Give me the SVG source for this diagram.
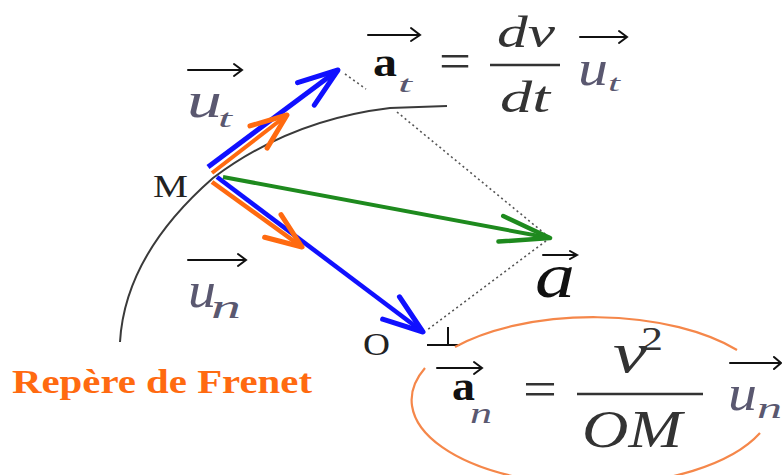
<svg xmlns="http://www.w3.org/2000/svg" width="782" height="475" viewBox="0 0 782 475">
<style>
.it{font-family:"Liberation Serif","Times New Roman",serif;font-style:italic}
.rm{font-family:"Liberation Serif","Times New Roman",serif}
.bd{font-family:"Liberation Serif","Times New Roman",serif;font-weight:bold}
.uc{fill:#5a5870}
.vec{fill:none;stroke:#111;stroke-width:2;stroke-linecap:round}
.dot{fill:none;stroke:#555;stroke-width:1.6;stroke-dasharray:2 3}
.ell{fill:none;stroke:#f5874a;stroke-width:2.2}
</style>
<defs>
<marker id="hb" markerUnits="userSpaceOnUse" viewBox="-50 -20 55 40" markerWidth="55" markerHeight="40" refX="0" refY="0" orient="auto" overflow="visible"><path d="M-40,-14 L0,0 L-40,14" fill="none" stroke="#1010ff" stroke-width="5" stroke-linecap="round" stroke-linejoin="round"/></marker>
<marker id="ho" markerUnits="userSpaceOnUse" viewBox="-50 -20 55 40" markerWidth="55" markerHeight="40" refX="0" refY="0" orient="auto" overflow="visible"><path d="M-36,-14 L0,0 L-36,14" fill="none" stroke="#ff6a10" stroke-width="5" stroke-linecap="round" stroke-linejoin="round"/></marker>
<marker id="hg" markerUnits="userSpaceOnUse" viewBox="-60 -20 65 40" markerWidth="65" markerHeight="40" refX="0" refY="0" orient="auto" overflow="visible"><path d="M-50,-13 L0,0 L-50,13" fill="none" stroke="#1e8a1e" stroke-width="4.5" stroke-linecap="round" stroke-linejoin="round"/></marker>
</defs>

<g id="trajectory">
<path d="M120,342 Q125,255 213,178 Q290,120 390,108 L447,106" fill="none" stroke="#3a3a3a" stroke-width="2"/>
</g>

<g id="connectors">
<path class="dot" d="M345,74 L366,89"/>
<path class="dot" d="M397,112 L550,238"/>
<path class="dot" d="M550,238 L427,330"/>
<line x1="208" y1="167" x2="338" y2="70" stroke="#1010ff" stroke-width="5" marker-end="url(#hb)"/>
<line x1="212" y1="173" x2="287" y2="115" stroke="#ff6a10" stroke-width="4" marker-end="url(#ho)"/>
<line x1="217" y1="177" x2="423" y2="332" stroke="#1010ff" stroke-width="4.5" marker-end="url(#hb)"/>
<line x1="212" y1="182" x2="302" y2="247" stroke="#ff6a10" stroke-width="4.5" marker-end="url(#ho)"/>
<line x1="223" y1="177" x2="550" y2="238" stroke="#1e8a1e" stroke-width="4" marker-end="url(#hg)"/>
</g>

<g id="point-M">
<text class="rm" x="153" y="197" font-size="32" textLength="35" lengthAdjust="spacingAndGlyphs" fill="#222">M</text>
</g>

<g id="point-O">
<text class="rm" x="363" y="355" font-size="32" textLength="27" lengthAdjust="spacingAndGlyphs" fill="#222">O</text>
<path d="M448,327 L448,345 M427,345 L460,345" fill="none" stroke="#111" stroke-width="2"/>
</g>

<g id="label-ut">
<path class="vec" d="M188,70 L242,70 M234,64 L242,70 L234,76"/>
<text class="it uc" x="187" y="117" font-size="50" textLength="35" lengthAdjust="spacingAndGlyphs">u</text>
<text class="it uc" x="218" y="127" font-size="26" textLength="14" lengthAdjust="spacingAndGlyphs">t</text>
</g>

<g id="label-un">
<path class="vec" d="M188,260 L246,260 M238,254 L246,260 L238,266"/>
<text class="it uc" x="188" y="307" font-size="50" textLength="28" lengthAdjust="spacingAndGlyphs">u</text>
<text class="it uc" x="211" y="318" font-size="34" textLength="30" lengthAdjust="spacingAndGlyphs">n</text>
</g>

<g id="label-a">
<path class="vec" d="M543,255 L577,255 M570,251 L577,255 L570,259"/>
<text class="it" x="535" y="297" font-size="64" textLength="40" lengthAdjust="spacingAndGlyphs" fill="#111">a</text>
</g>

<g id="formula-at">
<path class="vec" d="M368,35 L420,35 M411,28 L420,35 L411,41"/>
<text class="bd" x="373" y="76" font-size="40" textLength="24" lengthAdjust="spacingAndGlyphs" fill="#111">a</text>
<text class="it uc" x="398" y="92" font-size="24" textLength="14" lengthAdjust="spacingAndGlyphs">t</text>
<text class="rm" x="439" y="78" font-size="50" textLength="32" lengthAdjust="spacingAndGlyphs" fill="#333">=</text>
<text class="it" x="497" y="47" font-size="44" textLength="58" lengthAdjust="spacingAndGlyphs" fill="#333">dv</text>
<line x1="490" y1="65" x2="560" y2="65" stroke="#333" stroke-width="2.5"/>
<text class="it" x="500" y="112" font-size="44" textLength="50" lengthAdjust="spacingAndGlyphs" fill="#333">dt</text>
<path class="vec" d="M580,37 L627,37 M619,31 L627,37 L619,43"/>
<text class="it uc" x="578" y="85" font-size="50" textLength="30" lengthAdjust="spacingAndGlyphs">u</text>
<text class="it uc" x="608" y="91" font-size="24" textLength="12" lengthAdjust="spacingAndGlyphs">t</text>
</g>

<g id="formula-an">
<path class="ell" d="M455,347 A182,85 0 0 1 737,350"/>
<path class="ell" d="M760,433 A182,85 0 0 1 592,485 A182,85 0 0 1 425,368"/>
<path class="vec" d="M437,368 L482,368 M474,362 L482,368 L474,374"/>
<text class="bd" x="452" y="400" font-size="42" textLength="23" lengthAdjust="spacingAndGlyphs" fill="#111">a</text>
<text class="it uc" x="470" y="423" font-size="30" textLength="22" lengthAdjust="spacingAndGlyphs">n</text>
<text class="rm" x="523" y="406" font-size="50" textLength="34" lengthAdjust="spacingAndGlyphs" fill="#333">=</text>
<text class="it" x="613" y="372" font-size="58" textLength="34" lengthAdjust="spacingAndGlyphs" fill="#333">v</text>
<text class="rm" x="641" y="350" font-size="34" textLength="22" lengthAdjust="spacingAndGlyphs" fill="#333">2</text>
<line x1="577" y1="394" x2="703" y2="394" stroke="#333" stroke-width="2.5"/>
<text class="it" x="582" y="447" font-size="52" textLength="100" lengthAdjust="spacingAndGlyphs" fill="#333">OM</text>
<path class="vec" d="M730,363 L781,363 M774,357 L781,363 L774,369"/>
<text class="it uc" x="728" y="410" font-size="50" textLength="29" lengthAdjust="spacingAndGlyphs">u</text>
<text class="it uc" x="757" y="418" font-size="30" textLength="25" lengthAdjust="spacingAndGlyphs">n</text>
</g>

<g id="title">
<text class="bd" x="12" y="393" font-size="33" textLength="300" lengthAdjust="spacingAndGlyphs" fill="#ff6a10">Repère de Frenet</text>
</g>
</svg>
